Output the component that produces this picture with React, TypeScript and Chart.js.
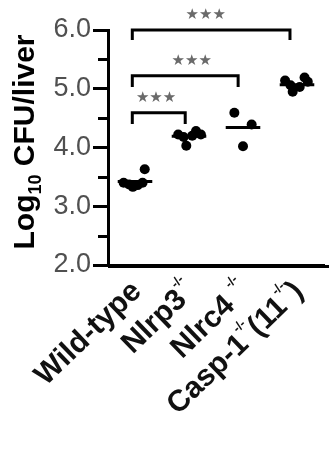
import React, { useEffect, useRef } from 'react';
import { Chart, registerables } from 'chart.js';

Chart.register(...registerables);

// ---- data ----
const groupIndex = [0, 1, 2, 3];
const wtValues = [3.4, 3.37, 3.33, 3.36, 3.4, 3.63];
const wtJitter = [-0.21, -0.11, -0.04, 0.05, 0.14, 0.18];
const nlrp3Values = [4.22, 4.18, 4.03, 4.2, 4.28, 4.22];
const nlrp3Jitter = [-0.2, -0.1, -0.05, 0.06, 0.13, 0.22];
const nlrc4Values = [4.59, 4.39, 4.02];
const nlrc4Jitter = [-0.16, 0.16, 0.0];
const caspValues = [5.14, 5.06, 4.95, 5.03, 5.19, 5.12];
const caspJitter = [-0.22, -0.12, -0.08, 0.05, 0.14, 0.2];
const groupMeans = [3.42, 4.19, 4.34, 5.07];
const meanHalfWidth = 0.32;
const yMin = 2;
const yMax = 6;
const yMinorTicks = [2.5, 3.5, 4.5, 5.5];
// brackets: from group, to group, bar level, leg drop
const bracketFrom = [-0.05, -0.05, -0.05];
const bracketTo = [0.93, 1.91, 2.87];
const bracketLevel = [4.59, 5.22, 6.0];
const bracketDrop = [0.19, 0.19, 0.17];
const bracketLabel = ['★★★', '★★★', '★★★'];
const bracketLabelShift = [-0.05, 0.12, -0.1];

// x labels as parts [text, isSuperscript]
const xLabels: [string, boolean][][] = [
  [['Wild-type', false]],
  [['Nlrp3', false], ['-/-', true]],
  [['Nlrc4 ', false], ['-/-', true]],
  [['Casp-1', false], ['-/-', true], ['(11', false], ['-/-', true], [')', false]],
];

const FONT = '"Liberation Sans", Arial, sans-serif';

const pts = (vals: number[], jit: number[], g: number) =>
  vals.map((v, i) => ({ x: g + jit[i], y: v }));

const annotPlugin = {
  id: 'annot',
  afterDraw(chart: any) {
    const { ctx, chartArea, scales } = chart;
    const xs = scales.x;
    const ys = scales.y;
    ctx.save();
    // x axis line to the canvas edge
    ctx.strokeStyle = '#000';
    ctx.lineWidth = 3;
    const axY = ys.getPixelForValue(yMin) + 1.5;
    ctx.beginPath();
    ctx.moveTo(chartArea.left, axY);
    ctx.lineTo(chart.width, axY);
    ctx.stroke();
    // minor ticks
    yMinorTicks.forEach((v) => {
      const py = Math.round(ys.getPixelForValue(v)) + 0.5;
      ctx.beginPath();
      ctx.moveTo(chartArea.left - 10, py);
      ctx.lineTo(chartArea.left - 1, py);
      ctx.stroke();
    });
    // brackets
    ctx.lineWidth = 3;
    ctx.lineCap = 'butt';
    bracketLevel.forEach((lv, i) => {
      const x1 = xs.getPixelForValue(bracketFrom[i]);
      const x2 = xs.getPixelForValue(bracketTo[i]);
      const y1 = ys.getPixelForValue(lv);
      const y2 = ys.getPixelForValue(lv - bracketDrop[i]);
      ctx.beginPath();
      ctx.moveTo(x1, y2);
      ctx.lineTo(x1, y1);
      ctx.lineTo(x2, y1);
      ctx.lineTo(x2, y2);
      ctx.stroke();
      ctx.fillStyle = '#6a6a6a';
      ctx.font = `15px "DejaVu Sans", sans-serif`;
      ctx.textAlign = 'center';
      ctx.textBaseline = 'middle';
      const mid = (bracketFrom[i] + bracketTo[i]) / 2 + bracketLabelShift[i];
      ctx.fillText(bracketLabel[i], xs.getPixelForValue(mid), y1 - 15);
    });
    // y title with subscript
    ctx.save();
    ctx.translate(34, 142);
    ctx.rotate(-Math.PI / 2);
    ctx.fillStyle = '#000';
    ctx.textBaseline = 'alphabetic';
    ctx.textAlign = 'left';
    const big = `bold 30px ${FONT}`;
    const small = `bold 18px ${FONT}`;
    const tParts: [string, boolean][] = [['Log', false], ['10', true], [' CFU/liver', false]];
    let total = 0;
    tParts.forEach(([t, s]) => {
      ctx.font = s ? small : big;
      total += ctx.measureText(t).width;
    });
    let cx = -total / 2;
    tParts.forEach(([t, s]) => {
      ctx.font = s ? small : big;
      ctx.fillText(t, cx, s ? 7 : 0);
      cx += ctx.measureText(t).width;
    });
    ctx.restore();
    // x labels
    const bigX = `bold 30px ${FONT}`;
    const supX = `bold 13px ${FONT}`;
    xLabels.forEach((parts, g) => {
      const ax = xs.getPixelForValue(groupIndex[g]) + 2;
      const ay = chartArea.bottom + 22;
      ctx.save();
      ctx.translate(ax, ay);
      ctx.rotate((-44 * Math.PI) / 180);
      ctx.fillStyle = '#111';
      ctx.textBaseline = 'middle';
      ctx.textAlign = 'left';
      let tw = 0;
      parts.forEach(([t, s]) => {
        ctx.font = s ? supX : bigX;
        tw += ctx.measureText(t).width;
      });
      let px = -tw;
      parts.forEach(([t, s]) => {
        ctx.font = s ? supX : bigX;
        ctx.fillText(t, px, s ? -13 : 0);
        px += ctx.measureText(t).width;
      });
      ctx.restore();
    });
    ctx.restore();
  },
};

export default function App() {
  const ref = useRef<HTMLCanvasElement | null>(null);
  useEffect(() => {
    document.body.style.margin = '0';
    document.documentElement.style.overflow = 'hidden';
    const canvas = ref.current!;
    const pointStyle = {
      type: 'scatter' as const,
      pointRadius: 5,
      pointHoverRadius: 5,
      backgroundColor: '#000',
      borderColor: '#000',
      borderWidth: 0,
      showLine: false,
      clip: false as any,
    };
    const meanDatasets = groupMeans.map((m, g) => ({
      type: 'scatter' as const,
      data: [
        { x: groupIndex[g] - meanHalfWidth, y: m },
        { x: groupIndex[g] + meanHalfWidth, y: m },
      ],
      showLine: true,
      borderColor: '#000',
      borderWidth: 3,
      pointRadius: 0,
      clip: false as any,
    }));
    const chart = new Chart(canvas, {
      type: 'scatter',
      data: {
        datasets: [
          ...meanDatasets,
          { ...pointStyle, data: pts(wtValues, wtJitter, 0) },
          { ...pointStyle, data: pts(nlrp3Values, nlrp3Jitter, 1) },
          { ...pointStyle, data: pts(nlrc4Values, nlrc4Jitter, 2) },
          { ...pointStyle, data: pts(caspValues, caspJitter, 3) },
        ],
      },
      options: {
        animation: false,
        responsive: false,
        layout: { padding: { top: 30, right: 0, left: 0, bottom: 0 } },
        plugins: { legend: { display: false }, tooltip: { enabled: false } },
        scales: {
          x: {
            type: 'linear',
            min: -0.5,
            max: 3.5,
            ticks: { display: false },
            grid: { drawOnChartArea: false, drawTicks: false },
            border: { display: true, width: 3, color: '#000' },
            afterFit: (s: any) => {
              s.height = 190;
            },
          },
          y: {
            min: yMin,
            max: yMax,
            ticks: {
              stepSize: 1,
              color: '#505050',
              font: { family: FONT, size: 27 },
              padding: 2,
              callback: (v: any) => Number(v).toFixed(1),
            },
            grid: {
              drawOnChartArea: false,
              drawTicks: true,
              tickLength: 15,
              tickWidth: 3,
              tickColor: '#000',
            },
            border: { display: true, width: 3, color: '#000' },
            afterFit: (s: any) => {
              s.width = 108;
            },
          },
        },
      },
      plugins: [annotPlugin],
    });
    return () => chart.destroy();
  }, []);
  return <canvas ref={ref} width={329} height={455} style={{ display: 'block' }} />;
}
